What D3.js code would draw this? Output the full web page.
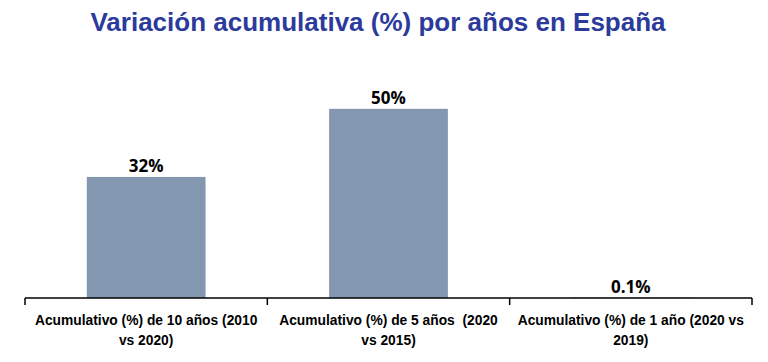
<!DOCTYPE html>
<html>
<head>
<meta charset="utf-8">
<script src="https://cdn.jsdelivr.net/npm/d3@7"></script>
<style>
  body { margin: 0; background: #fff; }
  svg { display: block; }
  .cat { white-space: pre; }
</style>
</head>
<body>
<div id="chart"></div>
<script>
// data
const categories = [
    "Acumulativo (%) de 10 años (2010 vs 2020)",
    "Acumulativo (%) de 5 años  (2020 vs 2015)",
    "Acumulativo (%) de 1 año (2020 vs 2019)"
];
const categoryLines = [
    ["Acumulativo (%) de 10 años (2010", "vs 2020)"],
    ["Acumulativo (%) de 5 años  (2020", "vs 2015)"],
    ["Acumulativo (%) de 1 año (2020 vs", "2019)"]
];
const values = [32, 50, 0.1];
const valueLabels = ["32%", "50%", "0.1%"];

const width = 768,
    height = 362,
    margin = { top: 71, bottom: 64, left: 25, right: 16 };

const svg = d3.select("#chart")
    .append("svg")
    .attr("width", width)
    .attr("height", height);

svg.append("text")
    .attr("x", 378)
    .attr("y", 31)
    .attr("text-anchor", "middle")
    .attr("font-family", "Liberation Sans, Arial, sans-serif")
    .attr("font-weight", "bold")
    .attr("font-size", 26)
    .attr("fill", "#2c3a9c")
    .text("Variación acumulativa (%) por años en España");

const xScale = d3.scaleBand()
    .domain(categories)
    .range([margin.left, width - margin.right])
    .paddingInner(0)
    .paddingOuter(0);

const yScale = d3.scaleLinear()
    .domain([0, 60])
    .range([height - margin.bottom, margin.top]);

const barW = xScale.bandwidth() * 0.49;

svg.selectAll(".bar")
    .data(values)
    .join("rect")
    .attr("class", "bar")
    .attr("x", (d, i) => xScale(categories[i]) + (xScale.bandwidth() - barW) / 2)
    .attr("width", barW)
    .attr("y", d => yScale(d))
    .attr("height", d => yScale(0) - yScale(d))
    .attr("fill", "#8497b0");

svg.selectAll(".val")
    .data(values)
    .join("text")
    .attr("class", "val")
    .attr("x", (d, i) => xScale(categories[i]) + xScale.bandwidth() / 2)
    .attr("y", d => yScale(d) - 5)
    .attr("text-anchor", "middle")
    .attr("font-family", "Open Sans, Liberation Sans, sans-serif")
    .attr("font-weight", "bold")
    .attr("font-size", 17)
    .attr("fill", "#000")
    .text((d, i) => valueLabels[i]);

// axis
const y0 = yScale(0);
svg.append("line")
    .attr("x1", margin.left).attr("x2", width - margin.right)
    .attr("y1", y0).attr("y2", y0)
    .attr("stroke", "#000").attr("stroke-width", 1.5);

const tickXs = categories.map(c => xScale(c)).concat([xScale.range()[1]]);
svg.selectAll(".tick")
    .data(tickXs)
    .join("line")
    .attr("x1", d => d).attr("x2", d => d)
    .attr("y1", y0).attr("y2", y0 + 7)
    .attr("stroke", "#000").attr("stroke-width", 1.5);

const labels = svg.selectAll(".cat")
    .data(categoryLines)
    .join("text")
    .attr("class", "cat")
    .attr("text-anchor", "middle")
    .attr("font-family", "Liberation Sans Narrow, Liberation Sans, sans-serif")
    .attr("font-weight", "bold")
    .attr("font-size", 13.8)
    .attr("fill", "#000");

labels.selectAll("tspan")
    .data((d, i) => d.map(t => ({ t, i })))
    .join("tspan")
    .attr("x", d => xScale(categories[d.i]) + xScale.bandwidth() / 2)
    .attr("y", (d, j) => y0 + 27 + j * 20)
    .text(d => d.t);
</script>
</body>
</html>
